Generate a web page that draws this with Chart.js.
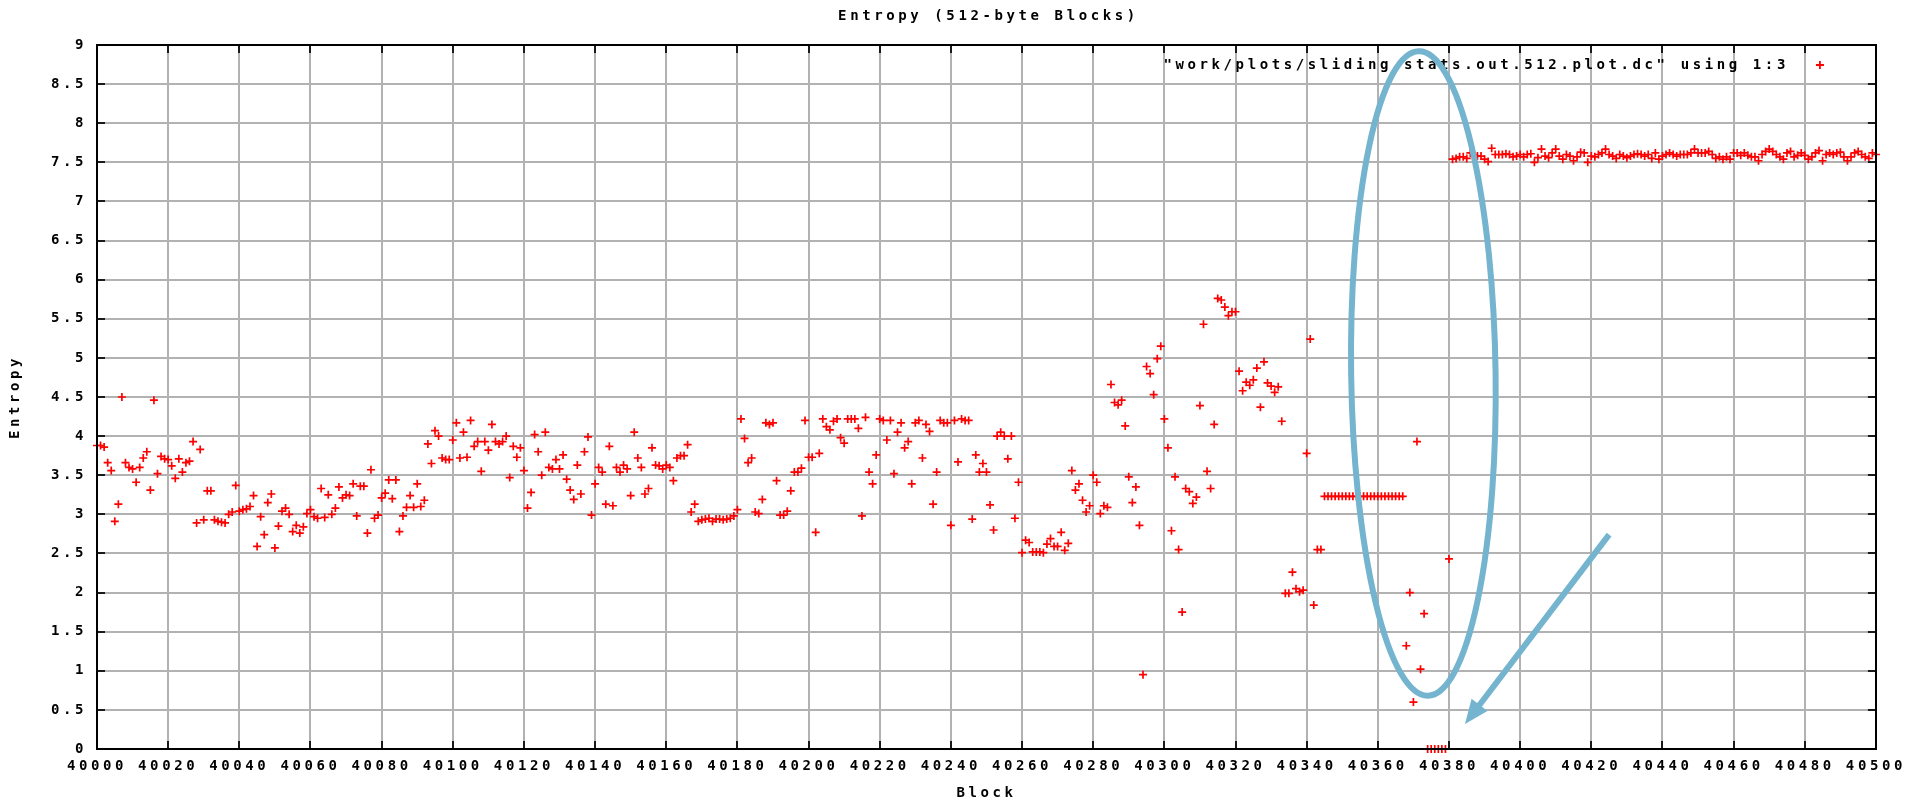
<!DOCTYPE html>
<html>
<head>
<meta charset="utf-8">
<script src="https://cdn.jsdelivr.net/npm/chart.js@4.4.0/dist/chart.umd.min.js"></script>
<style>
html,body{margin:0;padding:0;background:#fff;overflow:hidden}
canvas{display:block}
</style>
</head>
<body>
<canvas id="c" width="1915" height="804"></canvas>
<script>
// ---------------- data ----------------
const firstBlock = 40000;
const chartTitle = 'Entropy (512-byte Blocks)';
const xTitle = 'Block';
const yTitle = 'Entropy';
const legendLabel = '"work/plots/sliding.stats.out.512.plot.dc" using 1:3';

// entropy per block, blocks 40000-40099
const entropy40000 = [
3.88,3.88,3.86,3.66,3.56,2.91,3.13,4.50,3.66,3.60,
3.58,3.41,3.60,3.72,3.80,3.31,4.46,3.52,3.74,3.71,
3.70,3.62,3.46,3.71,3.54,3.66,3.68,3.93,2.89,3.83,
2.93,3.30,3.30,2.93,2.91,2.90,2.89,3.00,3.03,3.37,
3.04,3.06,3.07,3.10,3.24,2.59,2.97,2.74,3.15,3.26,
2.57,2.85,3.04,3.08,3.00,2.78,2.86,2.76,2.84,3.01,
3.06,2.97,2.95,3.33,2.96,3.25,3.00,3.08,3.35,3.21,
3.25,3.24,3.39,2.98,3.36,3.36,2.76,3.57,2.95,2.99,
3.21,3.27,3.44,3.20,3.44,2.78,2.98,3.09,3.24,3.09,
3.39,3.10,3.18,3.90,3.65,4.07,4.00,3.72,3.70,3.70
];
// blocks 40100-40199
const entropy40100 = [
3.95,4.17,3.72,4.05,3.73,4.20,3.87,3.93,3.55,3.93,
3.82,4.15,3.93,3.90,3.93,4.00,3.47,3.87,3.73,3.85,
3.56,3.08,3.28,4.02,3.80,3.50,4.05,3.60,3.58,3.70,
3.58,3.76,3.45,3.31,3.19,3.63,3.26,3.80,3.99,2.99,
3.39,3.60,3.54,3.13,3.87,3.11,3.60,3.54,3.63,3.58,
3.24,4.05,3.72,3.60,3.26,3.33,3.85,3.63,3.62,3.58,
3.63,3.60,3.43,3.72,3.75,3.75,3.89,3.03,3.13,2.91,
2.93,2.94,2.95,2.91,2.94,2.94,2.93,2.94,2.95,2.98,
3.06,4.22,3.97,3.66,3.72,3.03,3.01,3.19,4.17,4.15,
4.17,3.43,2.99,2.99,3.04,3.30,3.54,3.54,3.59,4.20
];
// blocks 40200-40299
const entropy40200 = [
3.73,3.73,2.77,3.78,4.22,4.12,4.08,4.19,4.22,3.98,
3.91,4.22,4.22,4.22,4.10,2.98,4.24,3.54,3.39,3.76,
4.22,4.20,3.95,4.20,3.52,4.05,4.17,3.85,3.93,3.39,
4.17,4.20,3.72,4.15,4.06,3.13,3.54,4.20,4.17,4.17,
2.86,4.20,3.67,4.22,4.20,4.20,2.94,3.76,3.54,3.65,
3.54,3.12,2.80,4.00,4.05,4.00,3.71,4.00,2.95,3.41,
2.51,2.67,2.64,2.52,2.52,2.52,2.51,2.62,2.69,2.59,
2.59,2.77,2.54,2.63,3.56,3.31,3.39,3.18,3.03,3.11,
3.50,3.41,3.01,3.11,3.09,4.66,4.43,4.40,4.46,4.13,
3.48,3.15,3.35,2.86,0.95,4.89,4.80,4.53,4.99,5.15
];
// blocks 40300-40399
const entropy40300 = [
4.22,3.85,2.79,3.48,2.55,1.75,3.33,3.29,3.14,3.22,
4.39,5.43,3.55,3.33,4.15,5.76,5.74,5.65,5.54,5.59,
5.59,4.83,4.58,4.69,4.65,4.72,4.87,4.37,4.95,4.68,
4.64,4.56,4.63,4.19,1.99,1.99,2.26,2.05,2.01,2.03,
3.78,5.24,1.84,2.55,2.55,3.23,3.23,3.23,3.23,3.23,
3.23,3.23,3.23,3.23,3.23,3.23,3.23,3.23,3.23,3.23,
3.23,3.23,3.23,3.23,3.23,3.23,3.23,3.23,1.32,2.00,
0.60,3.93,1.02,1.73,0.00,0.00,0.00,0.00,0.00,0.00,
2.43,7.54,7.55,7.57,7.57,7.55,7.62,7.60,7.58,7.58,
7.54,7.51,7.68,7.60,7.60,7.60,7.61,7.60,7.57,7.58
];
// blocks 40400-40500
const entropy40400 = [
7.60,7.57,7.60,7.61,7.50,7.56,7.67,7.58,7.56,7.62,
7.67,7.58,7.54,7.60,7.58,7.52,7.57,7.63,7.62,7.50,
7.58,7.57,7.60,7.62,7.67,7.60,7.58,7.55,7.60,7.58,
7.56,7.58,7.60,7.61,7.60,7.58,7.60,7.55,7.62,7.54,
7.58,7.60,7.62,7.60,7.58,7.60,7.60,7.60,7.62,7.67,
7.62,7.62,7.62,7.64,7.60,7.55,7.57,7.54,7.57,7.54,
7.62,7.62,7.59,7.62,7.59,7.57,7.57,7.52,7.60,7.64,
7.67,7.64,7.60,7.57,7.54,7.62,7.64,7.57,7.59,7.62,
7.59,7.54,7.57,7.62,7.65,7.52,7.60,7.62,7.60,7.62,
7.63,7.57,7.52,7.57,7.62,7.64,7.60,7.57,7.55,7.62,
7.60
];

const xTicks = [40000,40020,40040,40060,40080,40100,40120,40140,40160,40180,40200,40220,40240,
                40260,40280,40300,40320,40340,40360,40380,40400,40420,40440,40460,40480,40500];
const yTicks = [0,0.5,1,1.5,2,2.5,3,3.5,4,4.5,5,5.5,6,6.5,7,7.5,8,8.5,9];

// ---------------- build ----------------
const allEntropy = [].concat(entropy40000, entropy40100, entropy40200, entropy40300, entropy40400);
const points = allEntropy.map((v, i) => ({ x: firstBlock + i, y: v }));

const FONT_FAMILY = "'DejaVu Sans Mono', 'Liberation Mono', monospace";
const FONT_WEIGHT = 'bold';
const FONT = { family: FONT_FAMILY, size: 14, weight: FONT_WEIGHT, lineHeight: 1.2 };
const LETTER_SPACING = '3.6px';
const GRID_COLOR = '#b2b2b2';
const RED = '#ff0000';
const BLUE = '#74b4cf';

// annotation geometry (data units)
const ellipseSpec = { cx: 40372.8, cy: 4.80, rx: 20.3, ry: 4.12, rot: -0.014, width: 6 };
const arrowSpec = { x0: 40425.0, y0: 2.74, x1: 40384.5, y1: 0.32, width: 6, headLen: 24, headHalf: 10 };

const spacingPlugin = {
  id: 'spacing',
  beforeUpdate(chart) { chart.ctx.letterSpacing = LETTER_SPACING; },
  beforeLayout(chart) { chart.ctx.letterSpacing = LETTER_SPACING; },
  beforeDraw(chart) { chart.ctx.letterSpacing = LETTER_SPACING; }
};

const framePlugin = {
  id: 'frame',
  afterDatasetsDraw(chart) {
    const { ctx, chartArea: a, scales } = chart;
    const tl = 8;
    ctx.save();
    ctx.strokeStyle = '#1a1a1a';
    ctx.lineWidth = 2;
    ctx.beginPath();
    xTicks.forEach(v => {
      const px = Math.round(scales.x.getPixelForValue(v));
      ctx.moveTo(px, a.bottom); ctx.lineTo(px, a.bottom - tl);
      ctx.moveTo(px, a.top); ctx.lineTo(px, a.top + tl);
    });
    yTicks.forEach(v => {
      const py = Math.round(scales.y.getPixelForValue(v));
      ctx.moveTo(a.left, py); ctx.lineTo(a.left + tl, py);
      ctx.moveTo(a.right, py); ctx.lineTo(a.right - tl, py);
    });
    ctx.stroke();
    ctx.strokeStyle = '#000';
    ctx.lineWidth = 2;
    ctx.strokeRect(Math.round(a.left), Math.round(a.top), Math.round(a.right - a.left), Math.round(a.bottom - a.top));
    ctx.restore();
  }
};

const textPlugin = {
  id: 'texts',
  afterDraw(chart) {
    const { ctx, chartArea: a } = chart;
    ctx.save();
    ctx.letterSpacing = LETTER_SPACING;
    ctx.font = `${FONT_WEIGHT} 14px ${FONT_FAMILY}`;
    ctx.fillStyle = '#000';
    ctx.textBaseline = 'middle';
    // title centred over the plot area
    ctx.textAlign = 'center';
    ctx.fillText(chartTitle, (a.left + a.right) / 2 + 2, 16);
    // key (inside, top right)
    ctx.textAlign = 'right';
    const y = a.top + 20;
    ctx.fillText(legendLabel, a.right - 87, y);
    const cx = a.right - 56;
    ctx.strokeStyle = RED;
    ctx.lineWidth = 1.8;
    ctx.beginPath();
    ctx.moveTo(cx - 4, y); ctx.lineTo(cx + 4, y);
    ctx.moveTo(cx, y - 4); ctx.lineTo(cx, y + 4);
    ctx.stroke();
    ctx.restore();
  }
};

const annotationPlugin = {
  id: 'annot',
  afterDraw(chart) {
    const { ctx, scales: { x, y } } = chart;
    ctx.save();
    ctx.strokeStyle = BLUE;
    ctx.fillStyle = BLUE;
    const ecx = x.getPixelForValue(ellipseSpec.cx);
    const ecy = y.getPixelForValue(ellipseSpec.cy);
    const erx = Math.abs(x.getPixelForValue(ellipseSpec.cx + ellipseSpec.rx) - ecx);
    const ery = Math.abs(y.getPixelForValue(ellipseSpec.cy + ellipseSpec.ry) - ecy);
    ctx.lineWidth = ellipseSpec.width;
    ctx.beginPath();
    ctx.ellipse(ecx, ecy, erx, ery, ellipseSpec.rot, 0, Math.PI * 2);
    ctx.stroke();
    const ax0 = x.getPixelForValue(arrowSpec.x0), ay0 = y.getPixelForValue(arrowSpec.y0);
    const ax1 = x.getPixelForValue(arrowSpec.x1), ay1 = y.getPixelForValue(arrowSpec.y1);
    const ang = Math.atan2(ay1 - ay0, ax1 - ax0);
    const bx = ax1 - Math.cos(ang) * arrowSpec.headLen, by = ay1 - Math.sin(ang) * arrowSpec.headLen;
    ctx.lineWidth = arrowSpec.width;
    ctx.lineCap = 'butt';
    ctx.beginPath();
    ctx.moveTo(ax0, ay0);
    ctx.lineTo(bx + Math.cos(ang) * 2, by + Math.sin(ang) * 2);
    ctx.stroke();
    ctx.beginPath();
    ctx.moveTo(ax1, ay1);
    ctx.lineTo(bx + Math.sin(ang) * arrowSpec.headHalf, by - Math.cos(ang) * arrowSpec.headHalf);
    ctx.lineTo(bx - Math.sin(ang) * arrowSpec.headHalf, by + Math.cos(ang) * arrowSpec.headHalf);
    ctx.closePath();
    ctx.fill();
    ctx.restore();
  }
};

new Chart(document.getElementById('c').getContext('2d'), {
  type: 'scatter',
  data: {
    datasets: [{
      label: legendLabel,
      data: points,
      pointStyle: 'cross',
      pointRadius: 4,
      pointHoverRadius: 4,
      borderColor: RED,
      backgroundColor: RED,
      pointBorderWidth: 1.7,
      borderWidth: 1.7,
      showLine: false,
      clip: false
    }]
  },
  options: {
    responsive: false,
    animation: false,
    devicePixelRatio: 1,
    events: [],
    layout: { padding: { left: 0, right: 31, top: 45, bottom: 0 } },
    plugins: {
      legend: { display: false },
      tooltip: { enabled: false },
      title: { display: false }
    },
    scales: {
      x: {
        type: 'linear', min: 40000, max: 40500,
        afterBuildTicks: s => { s.ticks = xTicks.map(v => ({ value: v })); },
        afterFit: s => { s.height = 55; },
        ticks: { callback: v => String(v), color: '#000', font: FONT, padding: 9, maxRotation: 0, autoSkip: false },
        grid: { color: GRID_COLOR, lineWidth: 2, drawTicks: false },
        border: { display: false },
        title: { display: true, text: xTitle, color: '#000', font: FONT, padding: { top: 0, bottom: 2 } }
      },
      y: {
        type: 'linear', min: 0, max: 9,
        afterBuildTicks: s => { s.ticks = yTicks.map(v => ({ value: v })); },
        afterFit: s => { s.width = 97; },
        ticks: { callback: v => String(v), color: '#000', font: FONT, padding: 10, autoSkip: false },
        grid: { color: GRID_COLOR, lineWidth: 2, drawTicks: false },
        border: { display: false },
        title: { display: true, text: yTitle, color: '#000', font: FONT, padding: { top: 7, bottom: 0 } }
      }
    }
  },
  plugins: [spacingPlugin, framePlugin, textPlugin, annotationPlugin]
});
</script>
</body>
</html>
